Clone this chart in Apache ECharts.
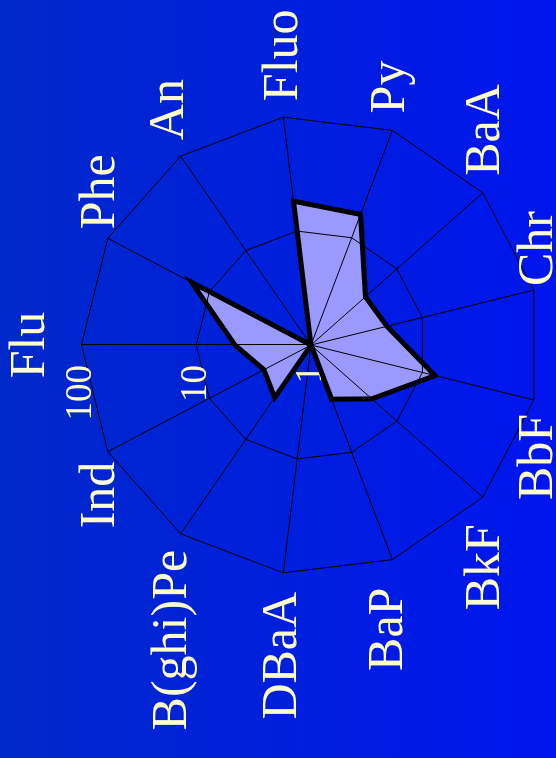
<!DOCTYPE html>
<html>
<head>
<meta charset="utf-8">
<script src="https://cdn.jsdelivr.net/npm/echarts@6/dist/echarts.min.js"></script>
<style>
  html, body { margin: 0; padding: 0; width: 556px; height: 758px; overflow: hidden; background: #0020dc; }
  /* The slide is laid out landscape and turned a quarter turn to stand upright */
  #chart {
    position: absolute; left: 0; top: 0;
    width: 758px; height: 556px;
    transform-origin: 0 0;
    transform: translate(0, 758px) rotate(-90deg);
  }
</style>
</head>
<body>
<div id="chart"></div>
<script>
// PAH compounds, clockwise from the top spoke
const compounds = ['Flu', 'Phe', 'An', 'Fluo', 'Py', 'BaA', 'Chr', 'BbF', 'BkF', 'BaP', 'DBaA', 'B(ghi)Pe', 'Ind'];
// Concentration for each compound (log axis, 1 to 100)
const concentrations = [4.6, 14.9, 1, 18.3, 16.5, 4.3, 4.8, 13.0, 5.1, 3.2, 1, 3.6, 2.9];
// Log-axis rings
const scaleTicks = [1, 10, 100];

const TEXT = '#ffffcc';
const SERIF = '"Liberation Serif", "Times New Roman", serif';

// Name label placement beside each spoke end:
// [horizontal gap to the text's near edge, vertical shift] in px
const nameNudge = {
  'Phe': [9, -7], 'An': [16, -11], 'Fluo': [16, 1], 'Py': [17, -1.5],
  'BaA': [17, 3.5], 'Chr': [4, 5], 'BbF': [-14, 5], 'BkF': [-27, 3],
  'BaP': [-28, -3.5], 'DBaA': [-19, 0], 'B(ghi)Pe': [-16, -8], 'Ind': [-10, -6.5]
};
const TOP_NAME_GAP = 26;
const START_ANGLE = 90;

// ECharts places indicators counter-clockwise, so walk the list backwards after the first
const order = [0].concat(compounds.map((_, i) => i).slice(1).reverse());
const logMin = Math.log10(scaleTicks[0]);
const logMax = Math.log10(scaleTicks[scaleTicks.length - 1]);

const indicators = order.map((idx, k) => {
  const name = compounds[idx];
  const ind = { name: name, min: logMin, max: logMax };
  if (k === 0) {
    ind.nameGap = TOP_NAME_GAP;
    return ind;
  }
  ind.axisLabel = { show: false };
  // spoke direction on screen (y pointing down)
  const a = (START_ANGLE + k * 360 / order.length) * Math.PI / 180;
  const dirX = Math.cos(a), dirY = -Math.sin(a);
  const [dx, v] = nameNudge[name];
  // slide along the spoke for the vertical shift, pad sideways for the rest
  const gap = Math.abs(dirY) > 1e-6 ? v / dirY : 0;
  const h = gap * dirX;
  ind.nameGap = gap;
  ind.nameTextStyle = {
    padding: dx >= 0 ? [0, 0, 0, Math.max(0, dx - h)] : [0, Math.max(0, h - dx), 0, 0]
  };
  return ind;
});
const logValues = order.map(idx => Math.log10(concentrations[idx]));

const chart = echarts.init(document.getElementById('chart'), null, { renderer: 'canvas' });
chart.setOption({
  animation: false,
  backgroundColor: {
    type: 'linear', x: 0, y: 0, x2: 0, y2: 1,
    colorStops: [
      { offset: 0, color: '#0029ca' },
      { offset: 1, color: '#0015ee' }
    ]
  },
  radar: {
    z: 2,
    center: [413, 311],
    radius: 229.5,
    startAngle: START_ANGLE,
    splitNumber: scaleTicks.length - 1,
    shape: 'polygon',
    axisNameGap: 0,
    axisName: { color: TEXT, fontFamily: SERIF, fontSize: 50 },
    splitLine: { lineStyle: { color: '#000', width: 1 } },
    splitArea: { show: false },
    axisLine: { lineStyle: { color: '#000', width: 1 } },
    axisTick: { show: false },
    axisLabel: {
      show: true,
      color: TEXT,
      fontFamily: SERIF,
      fontSize: 37,
      margin: 20,
      formatter: v => String(Math.round(Math.pow(10, v)))
    },
    indicator: indicators
  },
  series: [
    {
      type: 'radar',
      z: 1,
      symbol: 'none',
      lineStyle: { width: 0, opacity: 0 },
      areaStyle: { color: '#9999ff', opacity: 1 },
      data: [{ value: logValues }]
    },
    {
      type: 'radar',
      z: 3,
      symbol: 'none',
      lineStyle: { color: '#000', width: 5, join: 'miter' },
      data: [{ value: logValues }]
    }
  ]
});
</script>
</body>
</html>
